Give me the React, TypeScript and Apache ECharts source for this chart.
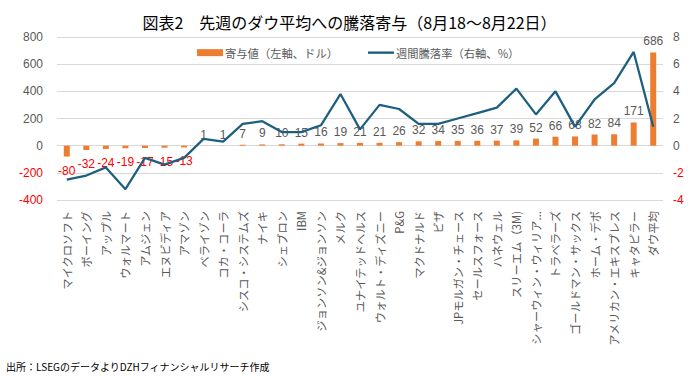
import React, { useEffect, useRef } from "react";
import * as echarts from "echarts";

const categories = [
  "マイクロソフト", "ボーイング", "アップル", "ウォルマート", "アムジェン", "エヌビディア", "アマゾン",
  "ベライゾン", "コカ・コーラ", "シスコ・システムズ", "ナイキ", "シェブロン", "IBM", "ジョンソン&ジョンソン",
  "メルク", "ユナイテッドヘルス", "ウォルト・ディズニー", "P&G", "マクドナルド", "ビザ", "JPモルガン・チェース",
  "セールスフォース", "ハネウェル", "スリーエム（3M)", "シャーウィン・ウィリアムズ", "トラベラーズ",
  "ゴールドマン・サックス", "ホーム・デポ", "アメリカン・エキスプレス", "キャタピラー", "ダウ平均",
];

const contribution = [
  -80, -32, -24, -19, -17, -15, -13, 1, 1, 7, 9, 10, 15, 16, 19, 21, 21, 26, 32, 34, 35, 36, 37, 39, 52,
  66, 68, 82, 84, 171, 686,
];

const weeklyChange = [
  -2.5, -2.2, -1.6, -3.2, -0.9, -1.4, -0.9, 0.5, 0.3, 1.6, 1.8, 1.0, 1.0, 1.5, 3.8, 1.2, 3.0, 2.7, 1.6,
  1.6, 2.0, 2.4, 2.8, 4.2, 2.3, 4.0, 1.4, 3.4, 4.6, 6.9, 1.4,
];

const leftTicks = { min: -400, max: 800, interval: 200 };
const rightTicks = { min: -4, max: 8, interval: 2 };

const seriesNames = ["寄与値（左軸、ドル）", "週間騰落率（右軸、%）"];
const titleText = "図表2　先週のダウ平均への騰落寄与（8月18～8月22日）";
const sourceText = "出所：LSEGのデータよりDZHフィナンシャルリサーチ作成";

const FONT = '"Liberation Sans", "Noto Sans CJK JP", sans-serif';
const JP = '"Noto Sans CJK JP", sans-serif';
const GRAY = "#595959";
const RED = "#FF0000";

export default function App() {
  const ref = useRef<HTMLDivElement>(null);
  useEffect(() => {
    if (!ref.current) return;
    const chart = echarts.init(ref.current, undefined, { renderer: "svg" });
    chart.setOption({
      animation: false,
      backgroundColor: "#ffffff",
      textStyle: { fontFamily: FONT },
      title: [
        {
          text: titleText,
          left: "center",
          top: 9,
          textStyle: { fontSize: 16, fontWeight: "normal", color: "#000", fontFamily: JP },
        },
        {
          text: sourceText,
          left: 1,
          top: 356,
          textStyle: { fontSize: 10, fontWeight: "normal", color: "#000", fontFamily: JP },
        },
      ],
      legend: {
        left: 192,
        top: 42,
        itemGap: 30,
        itemWidth: 26,
        itemHeight: 7,
        textStyle: { fontSize: 11.3, color: GRAY, fontFamily: JP, padding: [0, 0, 0, -3] },
        data: [
          { name: seriesNames[0], icon: "rect" },
          { name: seriesNames[1], icon: "path://M0 0 H26 V2.4 H0 Z" },
        ],
      },
      grid: { left: 57, right: 36, top: 37, bottom: 176 },
      xAxis: {
        type: "category",
        data: categories,
        axisLine: { show: false },
        axisTick: { show: false },
        axisLabel: {
          rotate: 90,
          interval: 0,
          fontSize: 11.3,
          color: GRAY,
          margin: 11,
          width: 138,
          overflow: "truncate",
          ellipsis: "...",
          fontFamily: JP,
        },
      },
      yAxis: [
        {
          type: "value",
          ...leftTicks,
          axisLine: { show: false },
          axisTick: { show: false },
          splitLine: { lineStyle: { color: "#D9D9D9", width: 1 } },
          axisLabel: {
            fontSize: 12,
            margin: 14,
            color: (v: any) => (Number(v) < 0 ? RED : GRAY),
          },
        },
        {
          type: "value",
          ...rightTicks,
          axisLine: { show: false },
          axisTick: { show: false },
          splitLine: { show: false },
          axisLabel: {
            fontSize: 12,
            margin: 10,
            color: (v: any) => (Number(v) < 0 ? RED : GRAY),
          },
        },
      ],
      series: [
        {
          name: seriesNames[0],
          type: "bar",
          yAxisIndex: 0,
          barWidth: 6,
          itemStyle: { color: "#ED7D31" },
          data: contribution.map((v) => ({
            value: v,
            label: {
              show: true,
              position: v < 0 ? "bottom" : "top",
              distance: v < 0 ? 8 : 5,
              color: v < 0 ? RED : GRAY,
              fontSize: 12,
            },
          })),
          z: 2,
        },
        {
          name: seriesNames[1],
          type: "line",
          yAxisIndex: 1,
          data: weeklyChange,
          showSymbol: false,
          symbol: "none",
          lineStyle: { color: "#1E5F80", width: 2.25 },
          itemStyle: { color: "#1E5F80" },
          z: 3,
        },
      ],
    });
    return () => chart.dispose();
  }, []);
  return (
    <div
      ref={ref}
      style={{ position: "fixed", left: 0, top: 0, width: 699, height: 376, background: "#fff" }}
    />
  );
}
